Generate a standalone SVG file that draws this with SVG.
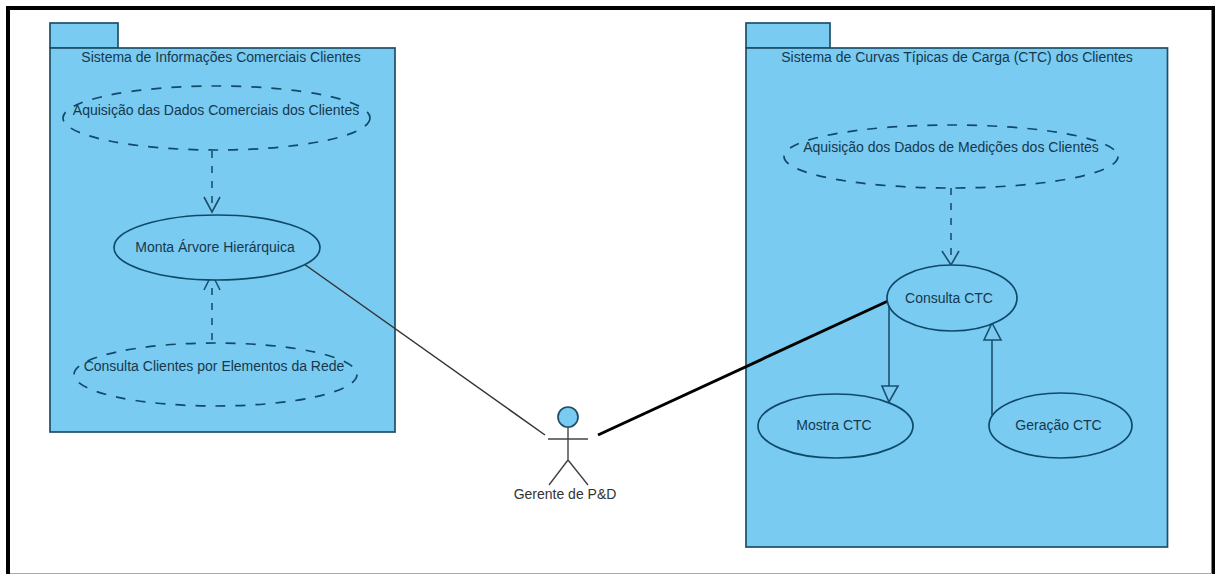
<svg xmlns="http://www.w3.org/2000/svg" width="1215" height="574" viewBox="0 0 1215 574">
<style>
.pkg{fill:#7acbf1;stroke:#1f4f68;stroke-width:1.7}
.uc{fill:#7acbf1;stroke:#0f4a6b;stroke-width:1.7}
.dash{stroke-dasharray:10 10}
.cd{stroke-dasharray:7 8}
.t{font-family:"Liberation Sans",Arial,sans-serif;font-size:14px;fill:#15384d;text-anchor:middle}
.c{fill:none;stroke:#1d4f6c;stroke-width:1.6}
.a{fill:none;stroke:#444;stroke-width:1.4}
</style>
<rect width="1215" height="574" fill="#fff"/>
<g id="frame"><path d="M8 574V8H1213.500V574" fill="none" stroke="#000" stroke-width="4"/><path d="M10 573.500H1212" stroke="#aaa" stroke-width="1"/></g>
<g id="pkg-left">
<rect class="pkg" x="50" y="23" width="68" height="25"/>
<rect class="pkg" x="50" y="48" width="345" height="384"/>
<text class="t" x="221" y="62">Sistema de Informações Comerciais Clientes</text>
</g>
<g id="pkg-right">
<rect class="pkg" x="746" y="23" width="84" height="25"/>
<rect class="pkg" x="746" y="48" width="421.500" height="499"/>
<text class="t" x="957" y="62">Sistema de Curvas Típicas de Carga (CTC) dos Clientes</text>
</g>
<g id="connectors">
<path class="c cd" d="M212 151V208"/><path class="c" d="M204 197L212 212L220 197"/>
<path class="c cd" d="M212 340V280"/><path class="c" d="M204 290L212 274L220 290"/>
<path class="c cd" d="M951 188V260"/><path class="c" d="M942 251L951 265L959 251"/>
<path d="M304 264L545 435" fill="none" stroke="#333" stroke-width="1.5"/>
<path d="M598 435L888 301" fill="none" stroke="#000" stroke-width="3"/>
<path class="c" d="M889 301V386"/><path class="c" d="M882 386H898L889 402Z"/>
<path class="c" d="M992 415V340"/><path class="c" d="M984 340H1001L992 323Z"/>
</g>
<g id="uc-aq1"><ellipse class="uc dash" cx="216.500" cy="118" rx="153.500" ry="32"/><text class="t" x="216" y="115">Aquisição das Dados Comerciais dos Clientes</text></g>
<g id="uc-monta"><ellipse class="uc" cx="217" cy="247.500" rx="103" ry="32.500"/><text class="t" x="215" y="252">Monta Árvore Hierárquica</text></g>
<g id="uc-consulta-rede"><ellipse class="uc dash" cx="215.500" cy="374.500" rx="141.500" ry="31.500"/><text class="t" x="214" y="371">Consulta Clientes por Elementos da Rede</text></g>
<g id="uc-aq2"><ellipse class="uc dash" cx="951" cy="156.500" rx="167" ry="31.500"/><text class="t" x="951" y="152">Aquisição dos Dados de Medições dos Clientes</text></g>
<g id="uc-consulta"><ellipse class="uc" cx="952" cy="298" rx="65" ry="33"/><text class="t" x="949" y="303">Consulta CTC</text></g>
<g id="uc-mostra"><ellipse class="uc" cx="835.500" cy="426" rx="77.500" ry="32"/><text class="t" x="834" y="430">Mostra CTC</text></g>
<g id="uc-geracao"><ellipse class="uc" cx="1060.500" cy="425.500" rx="71.500" ry="32.500"/><text class="t" x="1058.500" y="430">Geração CTC</text></g>
<g id="actor">
<circle cx="568" cy="417" r="10" fill="#7acbf1" stroke="#1f4f68" stroke-width="1.7"/>
<path class="a" d="M568 427V460M548 439H588M549 485L568 460L588 485"/>
<text class="t" x="565" y="499" style="fill:#333">Gerente de P&amp;D</text>
</g>
</svg>
